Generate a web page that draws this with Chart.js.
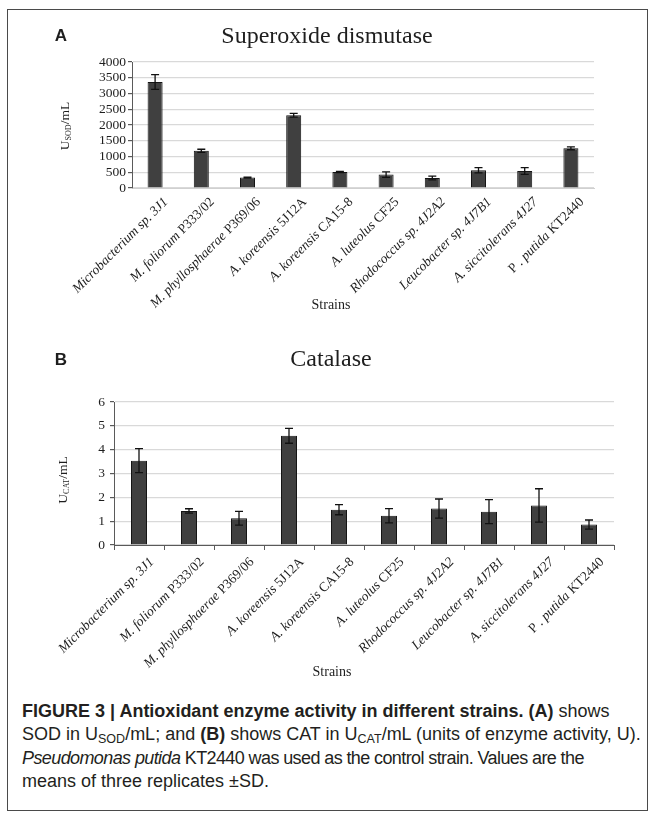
<!DOCTYPE html>
<html>
<head>
<meta charset="utf-8">
<script src="https://cdn.jsdelivr.net/npm/chart.js@4/dist/chart.umd.min.js"></script>
<style>
  html, body { margin: 0; padding: 0; background: #fff; }
  #fig { position: relative; width: 657px; height: 820px; overflow: hidden; }
  #frame { position: absolute; left: 7px; top: 9px; width: 641px; height: 802px; border: 1px solid #4a4a4a; box-sizing: border-box; }
  canvas { position: absolute; left: 0; }
  #sod { top: 0; }
  #cat { top: 340px; }
  #caption {
    position: absolute; left: 22px; top: 700px; width: 630px;
    font-family: "Liberation Sans", Arial, sans-serif; font-size: 18px;
    line-height: 23.3px; color: #231f20; white-space: nowrap;
  }
  #caption sub { font-size: 12.5px; vertical-align: -3px; line-height: 0; }
  #caption .tight { letter-spacing: -0.6px; }
</style>
</head>
<body>
<div id="fig">
  <div id="frame"></div>
  <canvas id="sod" width="657" height="330"></canvas>
  <canvas id="cat" width="657" height="360"></canvas>
  <div id="caption">
    <b>FIGURE 3 | Antioxidant enzyme activity in different strains. (A)</b> shows<br>
    SOD in U<sub>SOD</sub>/mL; and <b>(B)</b> shows CAT in U<sub>CAT</sub>/mL (units of enzyme activity, U).<br>
    <span class="tight"><i>Pseudomonas putida</i> KT2440 was used as the control strain. Values are the</span><br>
    means of three replicates &plusmn;SD.
  </div>
</div>
<script>
// Strain names: [text, italic] segments
const strainParts = [
  [['Microbacterium sp. 3J1', true]],
  [['M. foliorum', true], [' P333/02', false]],
  [['M. phyllosphaerae', true], [' P369/06', false]],
  [['A. koreensis', true], [' 5J12A', false]],
  [['A. koreensis', true], [' CA15-8', false]],
  [['A. luteolus', true], [' CF25', false]],
  [['Rhodococcus sp. 4J2A2', true]],
  [['Leucobacter sp. 4J7B1', true]],
  [['A. siccitolerans 4J27', true]],
  [['P . ', false], ['putida', true], [' KT2440', false]]
];
const strains = strainParts.map(p => p.map(s => s[0]).join(''));

// Superoxide dismutase activity (U_SOD/mL), mean and SD
const sodMean = [3365, 1180, 330, 2310, 510, 425, 317, 562, 540, 1260];
const sodSD   = [235, 50, 15, 60, 20, 85, 60, 85, 105, 45];
const sodTicks = { min: 0, max: 4000, step: 500 };

// Catalase activity (U_CAT/mL), mean and SD
const catMean = [3.54, 1.43, 1.12, 4.58, 1.48, 1.23, 1.53, 1.40, 1.66, 0.86];
const catSD   = [0.50, 0.09, 0.29, 0.31, 0.21, 0.30, 0.40, 0.50, 0.70, 0.19];
const catTicks = { min: 0, max: 6, step: 1 };

const SERIF = '"Liberation Serif", "Times New Roman", serif';
const SANS = '"Liberation Sans", Arial, sans-serif';
const INK = '#1e1e1e';

Chart.defaults.font.family = SERIF;
Chart.defaults.color = INK;

// Draws panel letter, title, axis titles, rotated strain labels and SD bars
function annotations(cfg) {
  return {
    id: 'annotations',
    afterDatasetsDraw(chart) {
      const ctx = chart.ctx;
      const xs = chart.scales.x, ys = chart.scales.y;

      // SD error bars
      ctx.save();
      ctx.strokeStyle = '#111';
      ctx.lineWidth = 1.3;
      cfg.mean.forEach((m, i) => {
        const x = xs.getPixelForValue(i);
        const yt = ys.getPixelForValue(m + cfg.sd[i]);
        const yb = ys.getPixelForValue(m - cfg.sd[i]);
        ctx.beginPath();
        ctx.moveTo(x, yt); ctx.lineTo(x, yb);
        ctx.moveTo(x - 4, yt); ctx.lineTo(x + 4, yt);
        ctx.moveTo(x - 4, yb); ctx.lineTo(x + 4, yb);
        ctx.stroke();
      });
      ctx.restore();
    },
    afterDraw(chart) {
      const ctx = chart.ctx;
      const xs = chart.scales.x;
      const area = chart.chartArea;
      const off = cfg.top;
      ctx.save();
      ctx.fillStyle = INK;

      // panel letter
      ctx.font = 'bold 17px ' + SANS;
      ctx.textAlign = 'center';
      ctx.textBaseline = 'middle';
      ctx.fillText(cfg.letter, 61, cfg.letterY - off);

      // panel title
      ctx.font = '24px ' + SERIF;
      ctx.fillText(cfg.title, cfg.titleX, cfg.titleY - off);

      // y-axis title with subscript
      ctx.save();
      ctx.translate(cfg.yTitleX, cfg.yTitleY - off);
      ctx.rotate(-Math.PI / 2);
      ctx.textAlign = 'left';
      ctx.textBaseline = 'alphabetic';
      const big = '13.5px ' + SERIF, small = '8px ' + SERIF;
      ctx.font = big; const wU = ctx.measureText('U').width;
      const wM = ctx.measureText('/mL').width;
      ctx.font = small; const wS = ctx.measureText(cfg.sub).width;
      const x0 = -(wU + wS + wM) / 2;
      ctx.font = big; ctx.fillText('U', x0, 5);
      ctx.font = small; ctx.fillText(cfg.sub, x0 + wU, 7);
      ctx.font = big; ctx.fillText('/mL', x0 + wU + wS, 5);
      ctx.restore();

      // rotated strain labels
      const upright = '13.5px ' + SERIF, ital = 'italic 13.5px ' + SERIF;
      strainParts.forEach((parts, i) => {
        const x = xs.getPixelForValue(i) + cfg.labelDX;
        const y = area.bottom + cfg.labelDY;
        let total = 0;
        const widths = parts.map(([t, it]) => {
          ctx.font = it ? ital : upright;
          const w = ctx.measureText(t).width;
          total += w;
          return w;
        });
        ctx.save();
        ctx.translate(x, y);
        ctx.rotate(-Math.PI / 4);
        ctx.textAlign = 'left';
        ctx.textBaseline = 'middle';
        let px = -total;
        parts.forEach(([t, it], k) => {
          ctx.font = it ? ital : upright;
          ctx.fillText(t, px, 0);
          px += widths[k];
        });
        ctx.restore();
      });

      // x-axis title
      ctx.font = '14px ' + SERIF;
      ctx.textAlign = 'center';
      ctx.textBaseline = 'middle';
      ctx.fillText('Strains', cfg.xTitleX, cfg.xTitleY - off);
      ctx.restore();
    }
  };
}

function makeChart(id, cfg) {
  const canvas = document.getElementById(id);
  const H = canvas.height;
  return new Chart(canvas, {
    type: 'bar',
    data: {
      labels: strains,
      datasets: [{
        data: cfg.mean,
        backgroundColor: '#404040',
        borderColor: '#151515',
        borderWidth: 1,
        barPercentage: cfg.barPct,
        categoryPercentage: 1
      }]
    },
    options: {
      responsive: false,
      animation: false,
      devicePixelRatio: 1,
      layout: {
        padding: {
          left: cfg.padLeft,
          right: 657 - cfg.areaRight,
          top: cfg.areaTop - cfg.top,
          bottom: 0
        }
      },
      plugins: { legend: { display: false }, tooltip: { enabled: false } },
      scales: {
        x: {
          ticks: { display: false },
          grid: {
            display: cfg.xTicks,
            drawOnChartArea: false,
            drawTicks: cfg.xTicks,
            tickLength: 5,
            tickColor: '#5a5a5a',
            offset: true
          },
          border: { display: true, color: cfg.xBorder, width: 1 },
          afterFit(s) { s.height = H - (cfg.areaBottom - cfg.top); }
        },
        y: {
          min: cfg.ticks.min,
          max: cfg.ticks.max,
          ticks: {
            stepSize: cfg.ticks.step,
            autoSkip: false,
            padding: cfg.tickPad,
            font: { family: SERIF, size: 13.5 },
            color: INK,
            callback: v => String(v)
          },
          grid: {
            color: '#d9d9d9',
            lineWidth: 1.2,
            tickLength: 4,
            tickColor: '#5a5a5a'
          },
          border: { display: true, color: '#5a5a5a', width: 1 },
          afterFit(s) { s.width = cfg.areaLeft - cfg.padLeft; }
        }
      }
    },
    plugins: [annotations(cfg)]
  });
}

makeChart('sod', {
  top: 0, mean: sodMean, sd: sodSD, ticks: sodTicks, sub: 'SOD',
  letter: 'A', letterY: 36, title: 'Superoxide dismutase', titleX: 327, titleY: 37,
  yTitleX: 64, yTitleY: 126, xTitleX: 331, xTitleY: 305,
  areaLeft: 132, areaRight: 594, areaTop: 62, areaBottom: 188,
  padLeft: 80, barPct: 0.325, tickPad: 2,
  xTicks: false, xBorder: '#d0d0d0', labelDX: 11, labelDY: 12
});

makeChart('cat', {
  top: 340, mean: catMean, sd: catSD, ticks: catTicks, sub: 'CAT',
  letter: 'B', letterY: 360, title: 'Catalase', titleX: 331, titleY: 360,
  yTitleX: 62, yTitleY: 480, xTitleX: 332, xTitleY: 672,
  areaLeft: 114, areaRight: 614, areaTop: 402, areaBottom: 545,
  padLeft: 60, barPct: 0.32, tickPad: 5,
  xTicks: true, xBorder: '#5a5a5a', labelDX: 13, labelDY: 15
});
</script>
</body>
</html>
